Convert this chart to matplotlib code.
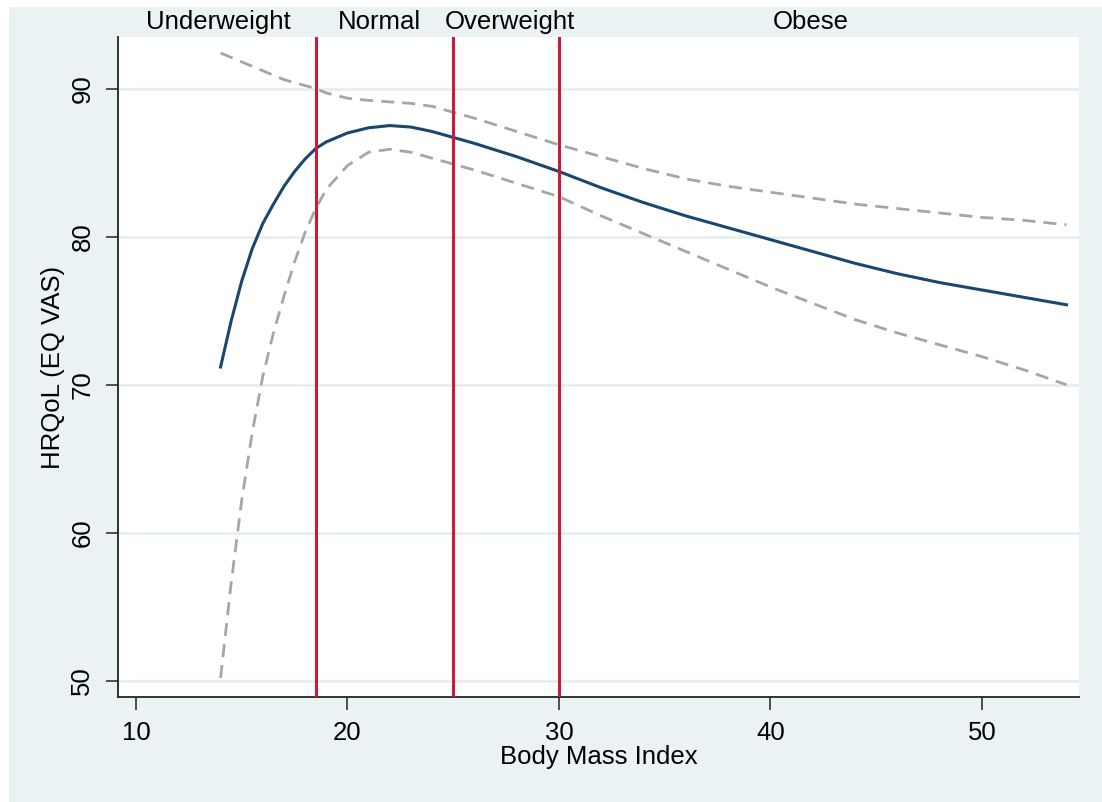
import numpy as np
import matplotlib
matplotlib.use("Agg")
import matplotlib.pyplot as plt
from matplotlib.patches import Rectangle

# Fitted curve and 95% band
bmi = [14, 14.5, 15, 15.5, 16, 16.5, 17, 17.5, 18, 18.5, 19, 20, 21, 22, 23, 24,
       25, 26, 28, 30, 32, 34, 36, 38, 40, 42, 44, 46, 48, 50, 52, 54]
hrqol = [71.2, 74.3, 77.0, 79.2, 80.9, 82.2, 83.4, 84.4, 85.25, 85.95, 86.4, 87.0,
         87.35, 87.5, 87.4, 87.1, 86.7, 86.3, 85.4, 84.4, 83.3, 82.3, 81.4, 80.6,
         79.8, 79.0, 78.2, 77.5, 76.9, 76.4, 75.9, 75.4]
upper = [92.4, 92.1, 91.8, 91.5, 91.2, 90.9, 90.6, 90.4, 90.2, 90.0, 89.7, 89.35,
         89.2, 89.1, 89.0, 88.8, 88.4, 88.0, 87.1, 86.2, 85.4, 84.6, 83.9, 83.4,
         83.0, 82.6, 82.2, 81.9, 81.6, 81.3, 81.1, 80.8]
lower = [50.2, 56.6, 62.2, 66.8, 70.6, 73.5, 76.0, 78.3, 80.3, 81.9, 83.2, 84.8,
         85.7, 85.9, 85.7, 85.3, 84.9, 84.5, 83.6, 82.7, 81.4, 80.2, 79.0, 77.8,
         76.6, 75.5, 74.4, 73.5, 72.7, 71.9, 71.0, 70.0]

# BMI category cut-offs and labels
cutoffs = [18.5, 25, 30]
categories = ["Underweight", "Normal", "Overweight", "Obese"]
category_x = [13.9, 21.5, 27.7, 41.9]

xticks = [10, 20, 30, 40, 50]
yticks = [50, 60, 70, 80, 90]

bg = "#EAF2F3"
plt.rcParams["font.family"] = ["Liberation Sans", "DejaVu Sans"]

fig = plt.figure(figsize=(11.02, 8.02), dpi=100, facecolor="white")
# light panel behind the graph, white margin top/left like the original export
fig.patches.append(Rectangle((9 / 1102, 0), 1, 1 - 7 / 802, transform=fig.transFigure,
                             facecolor=bg, edgecolor="none", zorder=-1))

ax = fig.add_axes([118 / 1102, 105 / 802, 961 / 1102, 660 / 802])
ax.set_facecolor("white")

for y in yticks:
    ax.axhline(y, color="#E4EDEF", lw=1.8, zorder=0)

ax.plot(bmi, upper, color="#A6A6A6", lw=2, dashes=(4.7, 2.9), zorder=2)
ax.plot(bmi, lower, color="#A6A6A6", lw=2, dashes=(4.7, 2.9), zorder=2)
ax.plot(bmi, hrqol, color="#1A476F", lw=2.2, zorder=3)

for c in cutoffs:
    ax.axvline(c, color="#CB1A3A", lw=2.2, zorder=4)

for name, cx in zip(categories, category_x):
    ax.text(cx, 1.022, name, transform=ax.get_xaxis_transform(), ha="center",
            va="center", fontsize=18.5, color="black")

ax.set_xlim(9.15, 54.59)
ax.set_ylim(48.92, 93.48)
ax.set_xticks(xticks)
ax.set_yticks(yticks)
ax.tick_params(axis="both", length=9, width=1.2, color="#333333", labelsize=18.5, pad=8)
ax.tick_params(axis="y", labelrotation=90)
for lbl in ax.get_yticklabels():
    lbl.set_va("center")

for side in ["top", "right"]:
    ax.spines[side].set_visible(False)
for side in ["left", "bottom"]:
    ax.spines[side].set_color("#222222")
    ax.spines[side].set_linewidth(1.3)

ax.set_xlabel("Body Mass Index", fontsize=18.5, labelpad=0)
ax.set_ylabel("HRQoL (EQ VAS)", fontsize=18.5, labelpad=4)

fig.savefig("out.png", dpi=100, facecolor="white")
